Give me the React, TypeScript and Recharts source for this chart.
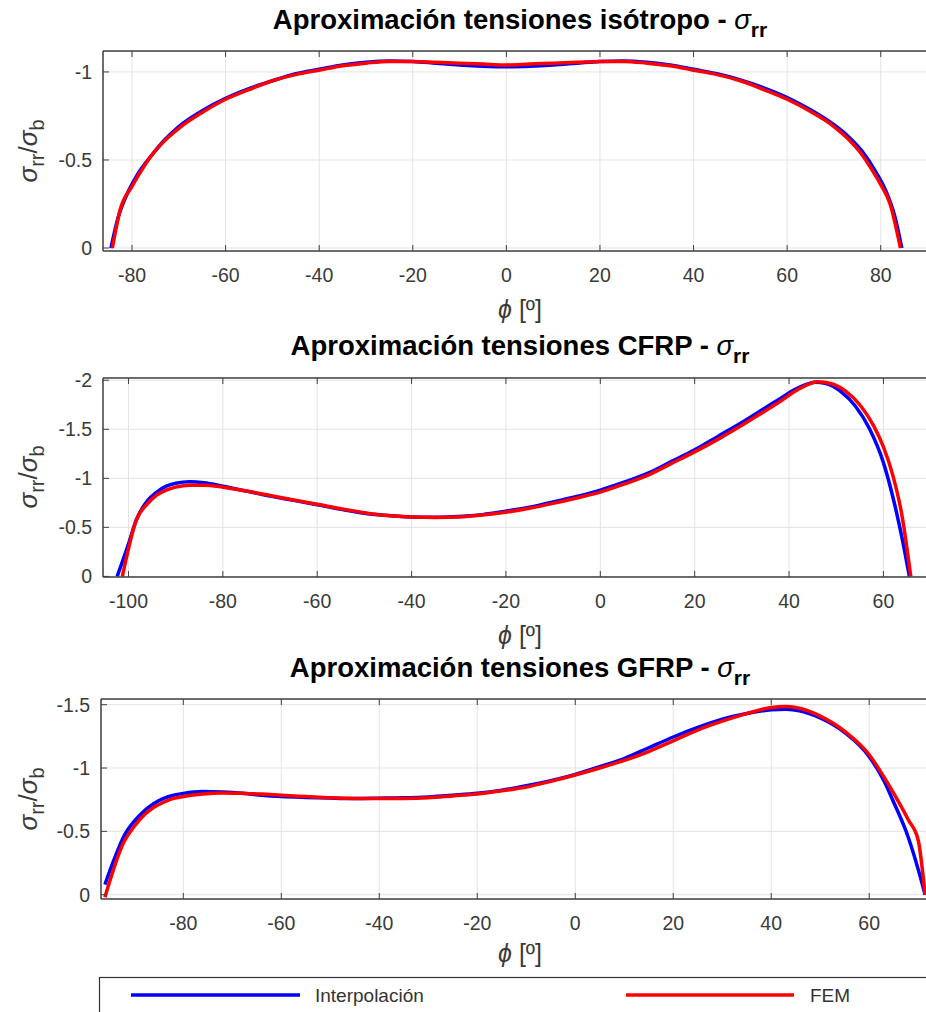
import { CartesianGrid, Line, LineChart, XAxis, YAxis } from "recharts";

const FONT = '"Liberation Sans", Arial, Helvetica, sans-serif';
const AXIS = "#404040";
const GRID = "#e3e3e3";
const BLUE = "#0000ff";
const RED = "#ff0000";

// isótropo
const ISO_PHI_INT = [-84.5, -83, -81, -79, -76, -73, -70, -65, -60, -55, -50, -45, -40, -35, -30, -25, -20, -15, -10, -5, 0, 5, 10, 15, 20, 25, 30, 35, 40, 45, 50, 55, 60, 65, 70, 73, 76, 79, 81, 83, 84.5];
const ISO_INT = [0, -0.17, -0.31, -0.41, -0.52, -0.615, -0.69, -0.78, -0.85, -0.905, -0.95, -0.99, -1.015, -1.04, -1.055, -1.062, -1.06, -1.05, -1.04, -1.033, -1.03, -1.033, -1.04, -1.05, -1.06, -1.062, -1.055, -1.04, -1.015, -0.99, -0.955, -0.91, -0.855, -0.785, -0.7, -0.635, -0.55, -0.43, -0.33, -0.18, 0];
const ISO_PHI_FEM = [-84.2, -82.5, -80, -78, -76, -73, -70, -65, -60, -55, -50, -45, -40, -35, -30, -25, -20, -15, -10, -5, 0, 5, 10, 15, 20, 25, 30, 35, 40, 45, 50, 55, 60, 65, 70, 73, 76, 78, 80, 82, 84.2];
const ISO_FEM = [0, -0.22, -0.35, -0.44, -0.52, -0.61, -0.68, -0.77, -0.845, -0.9, -0.95, -0.985, -1.01, -1.035, -1.05, -1.06, -1.06, -1.055, -1.05, -1.045, -1.04, -1.045, -1.05, -1.055, -1.06, -1.06, -1.05, -1.035, -1.01, -0.985, -0.95, -0.9, -0.845, -0.775, -0.69, -0.62, -0.53, -0.45, -0.36, -0.25, 0];

// CFRP
const CFRP_PHI_INT = [-102.4, -100, -98.3, -96, -94, -92, -90, -87, -84, -80, -75, -70, -65, -60, -55, -50, -45, -40, -35, -30, -25, -20, -15, -10, -5, 0, 5, 10, 15, 20, 25, 30, 35, 38, 41, 43.5, 45.5, 48, 51, 54, 57, 60, 62, 64, 65.5];
const CFRP_INT = [0, -0.33, -0.58, -0.77, -0.86, -0.92, -0.95, -0.965, -0.955, -0.92, -0.87, -0.82, -0.775, -0.73, -0.685, -0.645, -0.62, -0.605, -0.602, -0.61, -0.63, -0.665, -0.705, -0.76, -0.815, -0.88, -0.96, -1.05, -1.17, -1.29, -1.43, -1.57, -1.72, -1.81, -1.9, -1.955, -1.98, -1.965, -1.885, -1.74, -1.51, -1.16, -0.81, -0.38, 0];
const CFRP_PHI_FEM = [-101.3, -98.3, -96, -94, -92, -90, -87, -84, -80, -75, -70, -65, -60, -55, -50, -45, -40, -35, -30, -25, -20, -15, -10, -5, 0, 5, 10, 15, 20, 25, 30, 35, 38, 41, 43.5, 46, 49, 52, 55, 58, 60, 62, 63.9, 65.8];
const CFRP_FEM = [0, -0.58, -0.74, -0.83, -0.88, -0.91, -0.93, -0.93, -0.91, -0.87, -0.825, -0.78, -0.735, -0.69, -0.65, -0.62, -0.605, -0.6, -0.605, -0.625, -0.655, -0.695, -0.745, -0.8, -0.86, -0.94, -1.03, -1.15, -1.27, -1.4, -1.54, -1.69, -1.78, -1.88, -1.945, -1.985, -1.965, -1.89, -1.75, -1.53, -1.32, -1.03, -0.63, 0];

// GFRP
const GFRP_PHI_INT = [-96, -94, -92, -90, -88, -86, -84, -82, -80, -76, -72, -68, -64, -60, -55, -50, -45, -40, -35, -30, -25, -20, -15, -10, -5, 0, 5, 10, 15, 20, 25, 30, 35, 40, 43, 46, 50, 55, 60, 63, 65, 68, 70, 71.4];
const GFRP_INT = [-0.08, -0.29, -0.47, -0.58, -0.66, -0.72, -0.76, -0.785, -0.8, -0.815, -0.81, -0.8, -0.785, -0.775, -0.768, -0.763, -0.76, -0.762, -0.765, -0.772, -0.785, -0.8, -0.825, -0.86, -0.9, -0.95, -1.01, -1.075, -1.16, -1.245, -1.32, -1.385, -1.43, -1.46, -1.465, -1.45, -1.395, -1.28, -1.09, -0.9, -0.73, -0.45, -0.2, 0];
const GFRP_PHI_FEM = [-96, -92.2, -90, -88, -86, -84, -82, -80, -76, -72, -68, -64, -60, -55, -50, -45, -40, -35, -30, -25, -20, -15, -10, -5, 0, 5, 10, 15, 20, 25, 30, 35, 40, 43, 46, 50, 55, 60, 63, 65, 68, 70, 71.4];
const GFRP_FEM = [0.02, -0.41, -0.54, -0.63, -0.69, -0.73, -0.76, -0.775, -0.795, -0.803, -0.8, -0.795, -0.785, -0.775, -0.765, -0.76, -0.76, -0.76, -0.765, -0.78, -0.795, -0.82, -0.85, -0.895, -0.945, -1.0, -1.06, -1.13, -1.215, -1.3, -1.37, -1.43, -1.478, -1.485, -1.47, -1.41, -1.29, -1.105, -0.93, -0.8, -0.59, -0.43, 0];

const ISO_X_TICKS = [-80, -60, -40, -20, 0, 20, 40, 60, 80];
const CFRP_X_TICKS = [-100, -80, -60, -40, -20, 0, 20, 40, 60];
const GFRP_X_TICKS = [-80, -60, -40, -20, 0, 20, 40, 60];
const ISO_Y_TICKS = [-1, -0.5, 0];
const CFRP_Y_TICKS = [-2, -1.5, -1, -0.5, 0];
const GFRP_Y_TICKS = [-1.5, -1, -0.5, 0];

const TITLES = ["Aproximación tensiones isótropo - ", "Aproximación tensiones CFRP - ", "Aproximación tensiones GFRP - "];
const LEGEND = ["Interpolación", "FEM"];

const zip = (phi: number[], s: number[]) => phi.map((p, i) => ({ phi: p, s: s[i] }));

interface PanelProps {
  top: number;
  plotTop: number;
  plotBottom: number;
  plotLeft: number;
  xDomain: [number, number];
  yDomain: [number, number];
  xTicks: number[];
  yTicks: number[];
  interp: { phi: number; s: number }[];
  fem: { phi: number; s: number }[];
}

const CHART_W = 940;
const CHART_H = 300;
const PLOT_RIGHT = 928;

function Panel(p: PanelProps) {
  const plotH = p.plotBottom - p.plotTop;
  const xAxisH = p.top + CHART_H - p.plotBottom;

  const XTick = (props: any) => {
    const { x, y, payload } = props;
    return (
      <g>
        <line x1={x} x2={x} y1={y} y2={y - 6} stroke={AXIS} />
        <line x1={x} x2={x} y1={y - plotH} y2={y - plotH + 6} stroke={AXIS} />
        <text x={x} y={y + 31} textAnchor="middle" fontSize={19.5} fill="#3a3a3a" fontFamily={FONT}>
          {payload.value}
        </text>
      </g>
    );
  };

  const YTick = (props: any) => {
    const { x, y, payload } = props;
    return (
      <g>
        <line x1={x} x2={x + 6} y1={y} y2={y} stroke={AXIS} />
        <text x={x - 11} y={y + 7} textAnchor="end" fontSize={19.5} fill="#3a3a3a" fontFamily={FONT}>
          {payload.value}
        </text>
      </g>
    );
  };

  return (
    <div style={{ position: "absolute", left: 0, top: p.top }}>
      <LineChart
        width={CHART_W}
        height={CHART_H}
        margin={{ top: p.plotTop - p.top - 1, right: CHART_W - PLOT_RIGHT, bottom: 0, left: 0 }}
      >
        <CartesianGrid stroke={GRID} strokeWidth={1} />
        <XAxis
          xAxisId="top"
          orientation="top"
          type="number"
          dataKey="phi"
          domain={p.xDomain}
          allowDataOverflow
          height={1}
          tick={false}
          tickLine={false}
          axisLine={{ stroke: AXIS, strokeWidth: 1.5 }}
        />
        <XAxis
          type="number"
          dataKey="phi"
          domain={p.xDomain}
          ticks={p.xTicks}
          interval={0}
          allowDataOverflow
          height={xAxisH}
          tick={XTick}
          tickSize={0}
          tickMargin={0}
          tickLine={false}
          axisLine={{ stroke: AXIS, strokeWidth: 1.5 }}
        />
        <YAxis
          type="number"
          domain={p.yDomain}
          reversed
          ticks={p.yTicks}
          interval={0}
          allowDataOverflow
          width={p.plotLeft}
          tick={YTick}
          tickSize={0}
          tickMargin={0}
          tickLine={false}
          axisLine={{ stroke: AXIS, strokeWidth: 1.5 }}
        />
        <Line data={p.interp} dataKey="s" type="monotone" stroke={BLUE} strokeWidth={3.5} dot={false} isAnimationActive={false} />
        <Line data={p.fem} dataKey="s" type="monotone" stroke={RED} strokeWidth={3.5} dot={false} isAnimationActive={false} />
      </LineChart>
    </div>
  );
}

function YLabel({ cy }: { cy: number }) {
  return (
    <text transform={`translate(37, ${cy}) rotate(-90)`} textAnchor="middle" fontSize={26} fill="#3a3a3a" fontFamily={FONT}>
      <tspan fontStyle="italic">σ</tspan>
      <tspan dy={7} fontSize={20}>rr</tspan>
      <tspan dy={-7}>/</tspan>
      <tspan fontStyle="italic">σ</tspan>
      <tspan dy={7} fontSize={20}>b</tspan>
    </text>
  );
}

function XLabel({ y }: { y: number }) {
  return (
    <text x={520} y={y} textAnchor="middle" fontSize={25} fill="#3a3a3a" fontFamily={FONT}>
      <tspan fontStyle="italic">ϕ</tspan> [º]
    </text>
  );
}

function Title({ y, text }: { y: number; text: string }) {
  return (
    <text x={520} y={y} textAnchor="middle" fontSize={27.5} fontWeight="bold" fill="#000" fontFamily={FONT}>
      {text}
      <tspan fontStyle="italic" fontWeight="normal">σ</tspan>
      <tspan dy={8} fontSize={21}>rr</tspan>
    </text>
  );
}

export default function App() {
  return (
    <div style={{ position: "absolute", left: 0, top: 0, width: 926, height: 1012, overflow: "hidden", background: "#fff" }}>
      <Panel
        top={0}
        plotTop={51}
        plotBottom={251}
        plotLeft={103}
        xDomain={[-86.2, 90.1]}
        yDomain={[-1.119, 0.017]}
        xTicks={ISO_X_TICKS}
        yTicks={ISO_Y_TICKS}
        interp={zip(ISO_PHI_INT, ISO_INT)}
        fem={zip(ISO_PHI_FEM, ISO_FEM)}
      />
      <Panel
        top={320}
        plotTop={378}
        plotBottom={577}
        plotLeft={103}
        xDomain={[-105.4, 69.45]}
        yDomain={[-2.023, 0.006]}
        xTicks={CFRP_X_TICKS}
        yTicks={CFRP_Y_TICKS}
        interp={zip(CFRP_PHI_INT, CFRP_INT)}
        fem={zip(CFRP_PHI_FEM, CFRP_FEM)}
      />
      <Panel
        top={640}
        plotTop={699}
        plotBottom={899}
        plotLeft={101}
        xDomain={[-96.8, 72.0]}
        yDomain={[-1.545, 0.034]}
        xTicks={GFRP_X_TICKS}
        yTicks={GFRP_Y_TICKS}
        interp={zip(GFRP_PHI_INT, GFRP_INT)}
        fem={zip(GFRP_PHI_FEM, GFRP_FEM)}
      />
      <svg width={926} height={1012} style={{ position: "absolute", left: 0, top: 0, pointerEvents: "none" }}>
        <Title y={29} text={TITLES[0]} />
        <Title y={355} text={TITLES[1]} />
        <Title y={677} text={TITLES[2]} />
        <YLabel cy={151} />
        <YLabel cy={477} />
        <YLabel cy={799} />
        <XLabel y={318} />
        <XLabel y={644} />
        <XLabel y={962} />
        <rect x={99.5} y={977.5} width={900} height={100} fill="#fff" stroke="#333" strokeWidth={1.2} />
        <line x1={131} x2={300} y1={995} y2={995} stroke={BLUE} strokeWidth={3.5} />
        <text x={315} y={1002} fontSize={19} fill="#333" fontFamily={FONT}>{LEGEND[0]}</text>
        <line x1={626} x2={794} y1={995} y2={995} stroke={RED} strokeWidth={3.5} />
        <text x={810} y={1002} fontSize={19} fill="#333" fontFamily={FONT}>{LEGEND[1]}</text>
      </svg>
    </div>
  );
}
